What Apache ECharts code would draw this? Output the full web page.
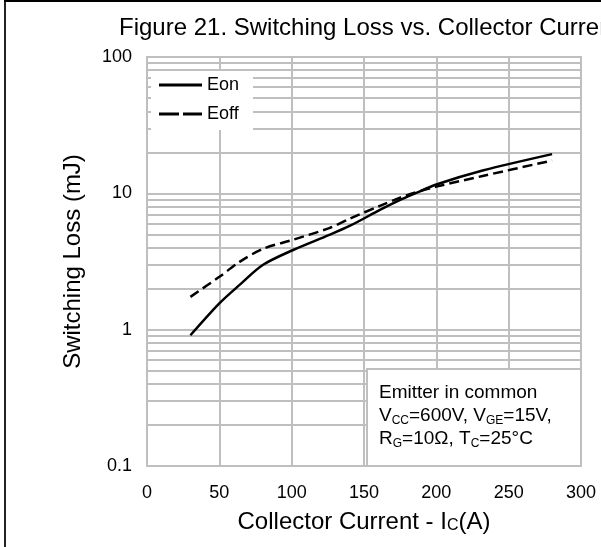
<!DOCTYPE html>
<html>
<head>
<meta charset="utf-8">
<script src="https://cdn.jsdelivr.net/npm/echarts@6/dist/echarts.min.js"></script>
<style>
  html, body { margin: 0; padding: 0; background: #fff; }
  #chart { width: 601px; height: 547px; }
</style>
</head>
<body>
<div id="chart"></div>
<script>
// Collector current (A) at which the curves were sampled
var collectorCurrent = [30, 50, 64, 80, 101, 126, 140, 161, 175, 185, 200, 232, 280];
// Turn-on switching energy (mJ)
var eonLoss = [0.91, 1.56, 2.13, 2.98, 3.84, 4.95, 5.76, 7.55, 8.94, 9.95, 11.6, 14.7, 19.4];
// Turn-off switching energy (mJ)
var eoffLoss = [1.74, 2.44, 3.14, 3.91, 4.57, 5.56, 6.50, 8.10, 9.30, 10.1, 11.2, 13.4, 17.4];

// Axis ranges and ticks
var xTicks = [0, 50, 100, 150, 200, 250, 300];
var yDecades = [0.1, 1, 10, 100];
// Intermediate log grid values inside each decade
var yMinorGrid = [0.2, 0.3, 0.4, 0.5, 0.6, 0.7, 0.8, 0.9,
                  2, 3, 4, 5, 6, 7, 8, 9,
                  20, 30, 40, 50, 60, 70, 80, 90];

var FONT = '"Liberation Sans", Arial, sans-serif';
var GRID_GRAY = '#bfbfbf';

// Legend glyphs: a solid bar and a two-dash bar
var ICON_SOLID = 'path://M0,0h43v3h-43z';
var ICON_DASHED = 'path://M0,0h20v3h-20zM24,0h19v3h-19z';

function pairs(xs, ys) {
  return xs.map(function (x, i) { return [x, ys[i]]; });
}

var chart = echarts.init(document.getElementById('chart'), null, { renderer: 'canvas' });

chart.setOption({
  backgroundColor: '#fff',
  animation: false,
  textStyle: { fontFamily: FONT, color: '#000' },
  title: {
    text: 'Figure 21. Switching Loss vs. Collector Current',
    left: 119,
    top: 16,
    padding: 0,
    textStyle: { fontFamily: FONT, fontSize: 24, fontWeight: 'normal', color: '#000' }
  },
  grid: {
    left: 147,
    top: 57,
    width: 434,
    height: 409,
    show: true,
    borderColor: GRID_GRAY,
    borderWidth: 2,
    backgroundColor: '#fff'
  },
  legend: {
    z: 100,
    orient: 'vertical',
    left: 151,
    top: 71,
    padding: [4, 14, 6, 8],
    itemWidth: 43,
    itemHeight: 3,
    itemGap: 9,
    backgroundColor: '#fff',
    textStyle: { fontFamily: FONT, fontSize: 18, lineHeight: 20, color: '#000' },
    data: [
      { name: 'Eon', icon: ICON_SOLID, itemStyle: { color: '#000', borderWidth: 0 } },
      { name: 'Eoff', icon: ICON_DASHED, itemStyle: { color: '#000', borderWidth: 0 } }
    ]
  },
  xAxis: {
    type: 'value',
    min: xTicks[0],
    max: xTicks[xTicks.length - 1],
    interval: 50,
    axisLine: { show: false },
    axisTick: { show: false },
    axisLabel: { fontFamily: FONT, fontSize: 18, color: '#000', margin: 18 },
    splitLine: { show: true, lineStyle: { color: GRID_GRAY, width: 2 } },
    name: 'Collector Current - I{s|C}(A)',
    nameLocation: 'middle',
    nameGap: 44,
    nameTextStyle: {
      fontFamily: FONT, fontSize: 24, color: '#000',
      rich: { s: { fontFamily: FONT, fontSize: 16, color: '#000', verticalAlign: 'bottom', padding: [8, 0, 0, 0] } }
    }
  },
  yAxis: {
    type: 'log',
    logBase: 10,
    min: yDecades[0],
    max: yDecades[yDecades.length - 1],
    axisLine: { show: false },
    axisTick: { show: false },
    axisLabel: {
      fontFamily: FONT, fontSize: 18, color: '#000', margin: 15,
      formatter: function (v) { return String(v); }
    },
    splitLine: { show: true, lineStyle: { color: GRID_GRAY, width: 2 } },
    name: 'Switching Loss (mJ)',
    nameLocation: 'middle',
    nameGap: 62,
    nameTextStyle: { fontFamily: FONT, fontSize: 24, color: '#000' }
  },
  series: [
    {
      // carries the intermediate log grid lines
      name: 'minorGrid',
      type: 'line',
      data: [],
      z: 1,
      silent: true,
      markLine: {
        silent: true,
        symbol: ['none', 'none'],
        label: { show: false },
        lineStyle: { color: GRID_GRAY, width: 2, type: 'solid' },
        emphasis: { disabled: true },
        data: yMinorGrid.map(function (v) { return { yAxis: v }; })
      }
    },
    {
      name: 'Eon',
      type: 'line',
      z: 5,
      smooth: 0.3,
      symbol: 'none',
      showSymbol: false,
      lineStyle: { color: '#000', width: 2.5, type: 'solid' },
      itemStyle: { color: '#000' },
      data: pairs(collectorCurrent, eonLoss)
    },
    {
      name: 'Eoff',
      type: 'line',
      z: 5,
      smooth: 0.3,
      symbol: 'none',
      showSymbol: false,
      lineStyle: { color: '#000', width: 2.5, type: [10, 5] },
      itemStyle: { color: '#000' },
      data: pairs(collectorCurrent, eoffLoss)
    }
  ],
  graphic: [
    // test-condition note in the lower right of the plot
    {
      type: 'rect',
      z: 50,
      shape: { x: 367, y: 369, width: 214, height: 97 },
      style: { fill: '#fff', stroke: GRID_GRAY, lineWidth: 2 }
    },
    {
      type: 'text',
      z: 51,
      x: 379,
      y: 381,
      style: {
        text: 'Emitter in common\nV{s|CC}=600V, V{s|GE}=15V,\nR{s|G}=10Ω, T{s|C}=25°C',
        font: '19px ' + FONT,
        fill: '#000',
        lineHeight: 23,
        rich: {
          s: { fontSize: 12, fontFamily: FONT, fill: '#000', lineHeight: 14, verticalAlign: 'bottom' }
        }
      }
    },
    // page frame
    {
      type: 'line', z: 60,
      shape: { x1: 5, y1: 0, x2: 5, y2: 547 },
      style: { stroke: '#222', lineWidth: 2 }
    },
    {
      type: 'line', z: 60,
      shape: { x1: 4, y1: 1, x2: 601, y2: 1 },
      style: { stroke: '#000', lineWidth: 2 }
    }
  ]
});
</script>
</body>
</html>
